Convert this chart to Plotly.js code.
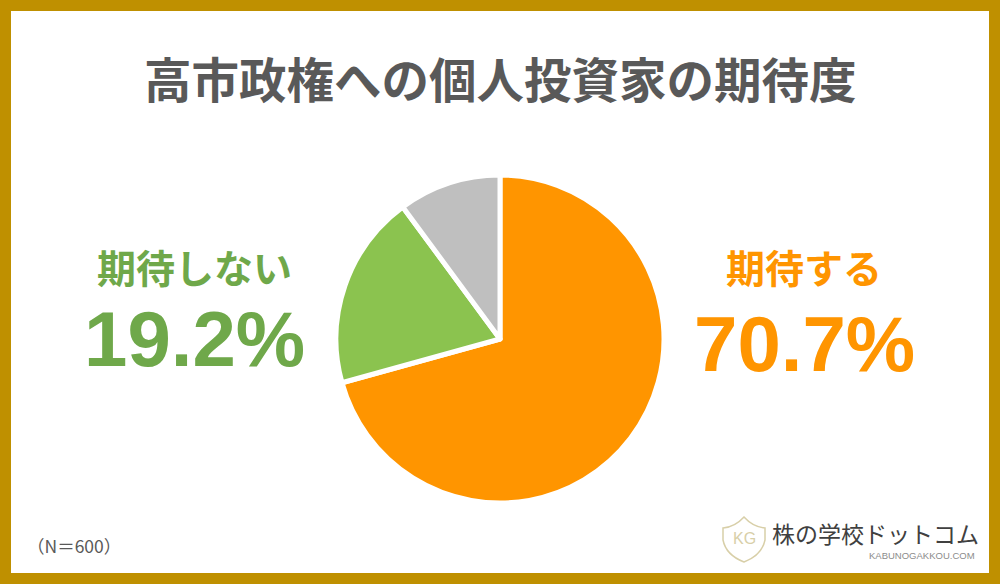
<!DOCTYPE html>
<html><head><meta charset="utf-8">
<script src="https://cdn.plot.ly/plotly-3.0.1.min.js"></script>
<style>html,body{margin:0;padding:0;background:#fff}#c{width:1000px;height:584px}</style>
</head><body><div id="c"></div>
<script>
var categories = ['期待する', '期待しない', 'その他'];
var shares = [70.7, 19.2, 10.1];
var sliceColors = ['#FF9500', '#8BC34F', '#BFBFBF'];
var chartTitle = '高市政権への個人投資家の期待度';
var sampleNote = '（N＝600）';
var brandName = '株の学校ドットコム';
var brandUrl = 'KABUNOGAKKOU.COM';
var W = 1000, H = 584;
var cjk = '"Noto Sans CJK JP","Noto Sans CJK SC",sans-serif';
var latin = '"Liberation Sans",Arial,sans-serif';
function px(x){return x/W;} function py(y){return 1-y/H;}
function label(x,y,text,size,color,fam,bold,anchor){
  return {xref:'paper',yref:'paper',x:px(x),y:py(y),xanchor:anchor||'center',yanchor:'middle',showarrow:false,
    text:bold?'<b>'+text+'</b>':text,font:{size:size,color:color,family:fam}};
}
var data = [{type:'pie',labels:categories,values:shares,sort:false,direction:'clockwise',rotation:0,
  marker:{colors:sliceColors,line:{color:'#FFFFFF',width:5}},textinfo:'none',hoverinfo:'label+percent',
  domain:{x:[px(336),px(664)],y:[py(503),py(175)]}}];
var layout = {width:W,height:H,margin:{l:0,r:0,t:0,b:0},paper_bgcolor:'#BF9000',showlegend:false,
  shapes:[
    {type:'rect',xref:'paper',yref:'paper',x0:px(11),x1:px(989),y0:py(573),y1:py(11),fillcolor:'#FFFFFF',line:{width:0},layer:'below'},
    {type:'path',xref:'paper',yref:'paper',layer:'above',
      path:'M '+px(723)+' '+py(528)+' Q '+px(735)+' '+py(527)+' '+px(744)+' '+py(517)+' Q '+px(753)+' '+py(527)+' '+px(765)+' '+py(528)+
       ' L '+px(765)+' '+py(540)+' Q '+px(762)+' '+py(555)+' '+px(744)+' '+py(562)+' Q '+px(726)+' '+py(555)+' '+px(723)+' '+py(540)+' Z',
      fillcolor:'rgba(0,0,0,0)',line:{color:'#D8CFA8',width:1.5}}
  ],
  annotations:[
    label(500,78,chartTitle,47.5,'#595959',cjk,true),
    label(194,266,categories[1],39,'#6FA84A',cjk,true),
    label(194,339,shares[1].toFixed(1)+'%',78,'#6FA84A',latin,true),
    label(804,266,categories[0],39,'#FF9500',cjk,true),
    label(804,344,shares[0].toFixed(1)+'%',78,'#FF9500',latin,true),
    label(74,545,sampleNote,17.5,'#595959',cjk,false),
    label(875,533,brandName,23,'#404040',cjk,false),
    label(922,555,brandUrl,9.5,'#8C8C8C',latin,false),
    label(744,538,'KG',16,'#D8CFA8',latin,false)
  ]};
Plotly.newPlot('c',data,layout,{displayModeBar:false,staticPlot:true});
</script></body></html>
